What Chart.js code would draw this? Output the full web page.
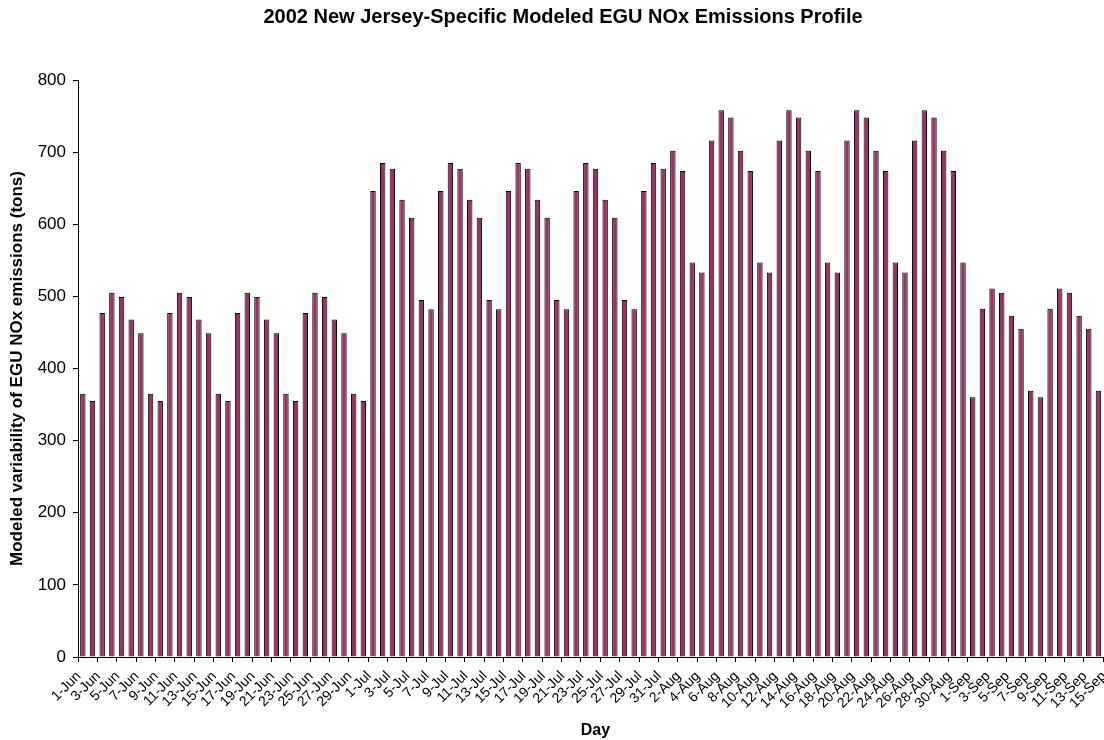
<!DOCTYPE html>
<html>
<head>
<meta charset="utf-8">
<title>2002 New Jersey-Specific Modeled EGU NOx Emissions Profile</title>
<script src="https://cdn.jsdelivr.net/npm/chart.js@4/dist/chart.umd.min.js"></script>
<style>
  html, body { margin: 0; padding: 0; background: #fff; overflow: hidden; }
  #wrap { width: 1104px; height: 740px; overflow: hidden; }
  canvas { display: block; }
</style>
</head>
<body>
<div id="wrap"><canvas id="chart" width="1126" height="740"></canvas></div>
<script>
// Days of the modeled ozone season, 1 June - 15 September 2002
const days = [
  "1-Jun","2-Jun","3-Jun","4-Jun","5-Jun","6-Jun","7-Jun","8-Jun","9-Jun","10-Jun",
  "11-Jun","12-Jun","13-Jun","14-Jun","15-Jun","16-Jun","17-Jun","18-Jun","19-Jun","20-Jun",
  "21-Jun","22-Jun","23-Jun","24-Jun","25-Jun","26-Jun","27-Jun","28-Jun","29-Jun","30-Jun",
  "1-Jul","2-Jul","3-Jul","4-Jul","5-Jul","6-Jul","7-Jul","8-Jul","9-Jul","10-Jul",
  "11-Jul","12-Jul","13-Jul","14-Jul","15-Jul","16-Jul","17-Jul","18-Jul","19-Jul","20-Jul",
  "21-Jul","22-Jul","23-Jul","24-Jul","25-Jul","26-Jul","27-Jul","28-Jul","29-Jul","30-Jul","31-Jul",
  "1-Aug","2-Aug","3-Aug","4-Aug","5-Aug","6-Aug","7-Aug","8-Aug","9-Aug","10-Aug",
  "11-Aug","12-Aug","13-Aug","14-Aug","15-Aug","16-Aug","17-Aug","18-Aug","19-Aug","20-Aug",
  "21-Aug","22-Aug","23-Aug","24-Aug","25-Aug","26-Aug","27-Aug","28-Aug","29-Aug","30-Aug","31-Aug",
  "1-Sep","2-Sep","3-Sep","4-Sep","5-Sep","6-Sep","7-Sep","8-Sep","9-Sep","10-Sep",
  "11-Sep","12-Sep","13-Sep","14-Sep","15-Sep"
];

// Daily EGU NOx emissions (tons) by month
const juneTons = [
  365, 355, 477, 505, 499, 468, 449, 365, 355, 477,
  505, 499, 468, 449, 365, 355, 477, 505, 499, 468,
  449, 365, 355, 477, 505, 499, 468, 449, 365, 355
];
const julyTons = [
  646, 685, 677, 634, 609, 495, 482, 646, 685, 677,
  634, 609, 495, 482, 646, 685, 677, 634, 609, 495,
  482, 646, 685, 677, 634, 609, 495, 482, 646, 685, 677
];
const augustTons = [
  702, 674, 547, 533, 716, 758, 748, 702, 674, 547,
  533, 716, 758, 748, 702, 674, 547, 533, 716, 758,
  748, 702, 674, 547, 533, 716, 758, 748, 702, 674, 547
];
const septemberTons = [
  360, 483, 511, 505, 473, 455, 369, 360, 483, 511,
  505, 473, 455, 369, 360
];

// Value axis ticks
const yTicks = [0, 100, 200, 300, 400, 500, 600, 700, 800];

const emissions = [].concat(juneTons, julyTons, augustTons, septemberTons);

const FONT = "'Liberation Sans', Arial, Helvetica, sans-serif";

new Chart(document.getElementById('chart'), {
  type: 'bar',
  data: {
    labels: days,
    datasets: [{
      label: 'EGU NOx emissions (tons)',
      data: emissions,
      backgroundColor: '#993366',
      borderColor: '#000000',
      borderWidth: 1,
      categoryPercentage: 1.0,
      barPercentage: 0.56
    }]
  },
  options: {
    responsive: false,
    animation: false,
    devicePixelRatio: 1,
    layout: { padding: { left: 0, right: 0, top: 0, bottom: 0 } },
    plugins: {
      legend: { display: false },
      tooltip: { enabled: false },
      title: {
        display: true,
        text: '2002 New Jersey-Specific Modeled EGU NOx Emissions Profile',
        color: '#000',
        font: { family: FONT, size: 20, weight: 'bold', lineHeight: 1.2 },
        padding: { top: 5, bottom: 51 }
      }
    },
    scales: {
      x: {
        offset: true,
        border: { display: true, color: '#000', width: 1 },
        grid: {
          offset: true,
          drawOnChartArea: false,
          drawTicks: true,
          tickLength: 5,
          tickColor: (ctx) => (ctx.index % 2 === 0 ? '#000' : 'rgba(0,0,0,0)'),
          tickWidth: 1
        },
        ticks: {
          autoSkip: false,
          maxRotation: 45,
          minRotation: 45,
          padding: 6,
          labelOffset: -4,
          color: '#000',
          font: { family: FONT, size: 14 },
          callback: function (value, index) {
            return index % 2 === 0 ? this.getLabelForValue(value) : '';
          }
        },
        title: {
          display: true,
          text: 'Day',
          color: '#000',
          font: { family: FONT, size: 16, weight: 'bold', lineHeight: 1.0 },
          padding: { top: 0, bottom: 1 }
        },
        afterFit: (scale) => { scale.height = 83; }
      },
      y: {
        min: 0,
        max: 800,
        border: { display: true, color: '#000', width: 1 },
        grid: {
          drawOnChartArea: false,
          drawTicks: true,
          tickLength: 5,
          tickColor: '#000'
        },
        afterBuildTicks: (scale) => { scale.ticks = yTicks.map(v => ({ value: v })); },
        ticks: {
          padding: 7,
          color: '#000',
          font: { family: FONT, size: 17 }
        },
        title: {
          display: true,
          text: 'Modeled variability of EGU NOx emissions (tons)',
          color: '#000',
          font: { family: FONT, size: 17, weight: 'bold', lineHeight: 1.2 },
          padding: { top: 7, bottom: 0 }
        },
        afterFit: (scale) => { scale.width = 78; }
      }
    }
  }
});
</script>
</body>
</html>
